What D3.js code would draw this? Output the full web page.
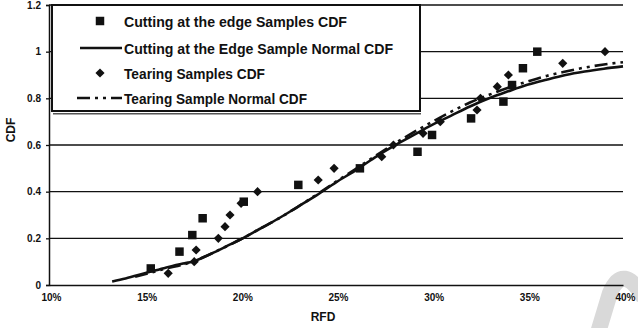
<!DOCTYPE html>
<html>
<head>
<meta charset="utf-8">
<script src="https://cdn.jsdelivr.net/npm/d3@7"></script>
<style>
  html, body { margin: 0; padding: 0; background: #fff; }
  svg { display: block; }
  text { font-family: "Liberation Sans", Arial, sans-serif; font-weight: bold; fill: #111; }
</style>
</head>
<body>
<svg id="chart" width="638" height="328"></svg>
<script>
// RFD in percent, CDF as a fraction
const cuttingRFD = [15.32, 16.82, 17.49, 18.03, 20.18, 23.03, 26.25, 29.26, 30.02, 32.06, 33.75, 34.2, 34.77, 35.52];
const cuttingCDF = [0.071, 0.143, 0.214, 0.286, 0.357, 0.429, 0.5, 0.571, 0.643, 0.714, 0.786, 0.857, 0.929, 1.0];

const tearingRFD = [16.23, 17.59, 17.69, 18.85, 19.2, 19.46, 20.04, 20.9, 24.07, 24.9, 27.39, 28.0, 29.55, 30.45, 32.37, 32.55, 33.43, 34.01, 36.85, 39.06];
const tearingCDF = [0.05, 0.10, 0.15, 0.20, 0.25, 0.30, 0.35, 0.40, 0.45, 0.50, 0.55, 0.60, 0.65, 0.70, 0.75, 0.80, 0.85, 0.90, 0.95, 1.0];

const cuttingNormRFD = [13.3, 14, 15, 16, 17, 17.5, 18.5, 19.5, 20, 21, 22, 23, 24, 25, 26, 27, 28, 29, 30, 31, 32, 33, 34, 35, 36, 37, 38, 39, 40];
const cuttingNormCDF = [0.015, 0.028, 0.05, 0.072, 0.092, 0.10, 0.135, 0.175, 0.195, 0.24, 0.285, 0.335, 0.385, 0.44, 0.49, 0.545, 0.595, 0.64, 0.685, 0.725, 0.765, 0.80, 0.83, 0.858, 0.88, 0.90, 0.915, 0.927, 0.937];

const tearingNormRFD = [14.5, 16, 17.5, 19, 20, 21, 22, 23, 24, 25, 26, 27, 28, 29, 30, 31, 32, 33, 34, 35, 36, 37, 38, 39, 40];
const tearingNormCDF = [0.035, 0.068, 0.10, 0.155, 0.195, 0.24, 0.285, 0.335, 0.388, 0.443, 0.496, 0.55, 0.603, 0.652, 0.698, 0.742, 0.782, 0.815, 0.845, 0.872, 0.896, 0.915, 0.932, 0.945, 0.955];

const xTicks = [0.10, 0.15, 0.20, 0.25, 0.30, 0.35, 0.40];
const yTicks = [0, 0.2, 0.4, 0.6, 0.8, 1.0, 1.2];

const legendLabels = [
  "Cutting at the edge Samples CDF",
  "Cutting at the Edge Sample Normal CDF",
  "Tearing Samples CDF",
  "Tearing Sample Normal CDF"
];

const ink = "#111";
const svg = d3.select("#chart");

const x = d3.scaleLinear().domain([0.10, 0.40]).range([49, 623]);
const y = d3.scaleLinear().domain([0, 1.2]).range([285, 5]);

const zip = (a, b) => a.map((v, i) => [v / 100, b[i]]);

// corner ornament, kept underneath everything else
svg.append("path")
  .attr("d", "M597,336 L610,293 Q623,262 644,298")
  .attr("fill", "none").attr("stroke", "#d9d9d9").attr("stroke-width", 16);

// horizontal gridlines
svg.append("g")
  .selectAll("line")
  .data(yTicks.filter(d => d > 0))
  .join("line")
  .attr("x1", x(0.10)).attr("x2", x(0.40))
  .attr("y1", d => y(d)).attr("y2", d => y(d))
  .attr("stroke", ink).attr("stroke-width", 1.3);

// y axis
const yAxis = svg.append("g")
  .attr("transform", `translate(${x(0.10)},0)`)
  .call(d3.axisLeft(y).tickValues(yTicks).tickSize(3).tickPadding(5)
    .tickFormat(d => d === 0 ? "0" : d3.format("~g")(+d.toFixed(1))));
yAxis.select(".domain").attr("stroke", ink).attr("stroke-width", 1.5);
yAxis.selectAll(".tick line").attr("stroke", ink).attr("stroke-width", 1.3);
yAxis.selectAll("text").style("font-size", "10px").style("font-family", "'Liberation Sans', Arial, sans-serif").attr("fill", ink);

// x axis
const xAxis = svg.append("g")
  .attr("transform", `translate(0,${y(0)})`)
  .call(d3.axisBottom(x).tickValues(xTicks).tickSize(0).tickPadding(9).tickFormat(d3.format(".0%")));
xAxis.select(".domain").attr("stroke", ink).attr("stroke-width", 1.5);
xAxis.selectAll("text").style("font-size", "10px").style("font-family", "'Liberation Sans', Arial, sans-serif").attr("fill", ink)
  .attr("dx", "2");

// axis titles
svg.append("text")
  .attr("transform", "translate(15,130) rotate(-90)")
  .attr("text-anchor", "middle")
  .style("font-size", "12px")
  .text("CDF");
svg.append("text")
  .attr("x", 323).attr("y", 321)
  .attr("text-anchor", "middle")
  .style("font-size", "12px")
  .text("RFD");

// normal CDF curves
const line = d3.line().x(d => x(d[0])).y(d => y(d[1])).curve(d3.curveMonotoneX);
const dashPattern = "13,5,3,5,3,5";

svg.append("path")
  .datum(zip(cuttingNormRFD, cuttingNormCDF))
  .attr("d", line)
  .attr("fill", "none").attr("stroke", ink).attr("stroke-width", 2.6);

svg.append("path")
  .datum(zip(tearingNormRFD, tearingNormCDF))
  .attr("d", line)
  .attr("fill", "none").attr("stroke", ink).attr("stroke-width", 2.6)
  .attr("stroke-dasharray", dashPattern);

// sample markers
const squareSym = d3.symbol().type(d3.symbolSquare).size(72);
const diamondSym = d3.symbol().type(d3.symbolSquare).size(42);

svg.append("g")
  .selectAll("path")
  .data(zip(cuttingRFD, cuttingCDF))
  .join("path")
  .attr("d", squareSym)
  .attr("transform", d => `translate(${x(d[0])},${y(d[1])})`)
  .attr("fill", ink);

svg.append("g")
  .selectAll("path")
  .data(zip(tearingRFD, tearingCDF))
  .join("path")
  .attr("d", diamondSym)
  .attr("transform", d => `translate(${x(d[0])},${y(d[1])}) rotate(45)`)
  .attr("fill", ink);

// legend
const legend = svg.append("g");
legend.append("rect")
  .attr("x", 53).attr("y", 113).attr("width", 368).attr("height", 1.5)
  .attr("fill", "#555");
legend.append("rect")
  .attr("x", 52).attr("y", 5).attr("width", 368).attr("height", 106)
  .attr("fill", "#fff").attr("stroke", ink).attr("stroke-width", 2);

const rowY = [21, 48, 73, 98];
const rowWidth = [223, 269, 141, 183];
legend.selectAll("text.item")
  .data(legendLabels)
  .join("text")
  .attr("class", "item")
  .attr("x", 124)
  .attr("y", (d, i) => rowY[i] + 5.5)
  .attr("textLength", (d, i) => rowWidth[i])
  .attr("lengthAdjust", "spacingAndGlyphs")
  .style("font-size", "15px")
  .text(d => d);

legend.append("path")
  .attr("d", squareSym)
  .attr("transform", `translate(100,${rowY[0]})`)
  .attr("fill", ink);
legend.append("line")
  .attr("x1", 80).attr("x2", 122).attr("y1", rowY[1]).attr("y2", rowY[1])
  .attr("stroke", ink).attr("stroke-width", 2.6);
legend.append("path")
  .attr("d", diamondSym)
  .attr("transform", `translate(100,${rowY[2]}) rotate(45)`)
  .attr("fill", ink);
legend.append("line")
  .attr("x1", 77).attr("x2", 122).attr("y1", rowY[3]).attr("y2", rowY[3])
  .attr("stroke", ink).attr("stroke-width", 2.6)
  .attr("stroke-dasharray", dashPattern);
</script>
</body>
</html>
